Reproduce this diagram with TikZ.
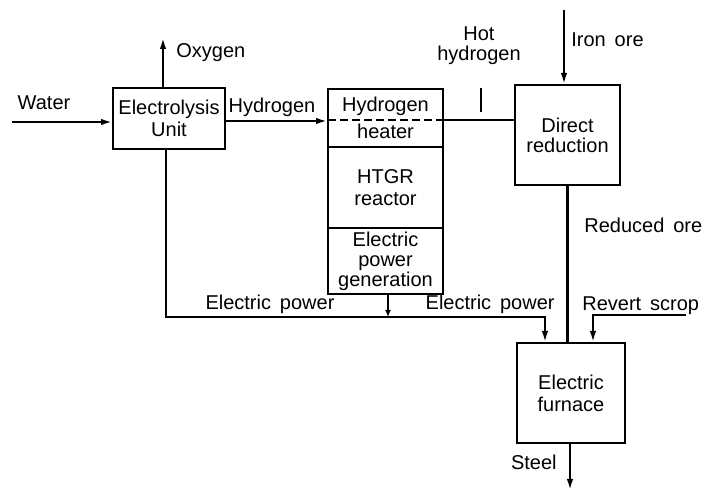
\documentclass[tikz,border=0pt]{standalone}
\usepackage{fontspec}
\setmainfont{Liberation Sans}[WordSpace=1.6]
\usetikzlibrary{arrows.meta, positioning}

\begin{document}
\begin{tikzpicture}[
    x=0.5pt, y=-0.5pt,
    block/.style={rectangle, draw, line width=1.1pt, inner sep=0pt, outer sep=0pt, align=center, font=\fontsize{10}{11}\selectfont},
    lbl/.style={inner sep=0pt, align=center, font=\fontsize{10}{10}\selectfont},
    flow/.style={line width=1.4pt},
    arrow/.style={flow, -{Latex[length=6pt, width=3.2pt]}},
    smallarrow/.style={flow, -{Latex[length=3.5pt, width=3pt]}}
]
    \useasboundingbox (0,0) rectangle (708,491);

    % boxes
    \node (elec) [block, minimum width=56pt, minimum height=30.5pt] at (169,118.5) {Electrolysis\\Unit};
    \node (heater) [block, minimum width=57.5pt, minimum height=29pt] at (385.5,118) {Hydrogen\\[2.5pt]heater};
    \node (htgr) [block, below=0pt of heater, minimum width=57.5pt, minimum height=40.5pt] {HTGR\\reactor};
    \node (epg) [block, below=0pt of htgr, minimum width=57.5pt, minimum height=33pt, font=\fontsize{10}{10}\selectfont] {Electric\\power\\generation};
    \node (dr) [block, minimum width=52.5pt, minimum height=50pt, font=\fontsize{10}{10}\selectfont] at (567.5,135) {Direct\\reduction};
    \node (furn) [block, minimum width=54pt, minimum height=50pt] at (571,393) {Electric\\furnace};

    % free ends
    \coordinate (water) at (12,122);
    \coordinate (oxy) at (163,37);
    \coordinate (ore) at (564,10);
    \coordinate (tick) at (481,88);
    \coordinate (busL) at (166,317);
    \coordinate (busR) at (545,317);
    \coordinate (scrap) at (686,315);
    \coordinate (scrapin) at (593,0);
    \coordinate (steel) at (570,491);

    % connectors
    \draw [arrow] (water) -- (water -| elec.west);
    \draw [arrow] (oxy |- elec.north) -- (oxy);
    \draw [arrow] (elec.east |- 0,121) -- (heater.west |- 0,121);
    \draw [line width=1pt, dash pattern=on 4pt off 2pt] (heater.west |- 0,120) -- (heater.east |- 0,120);
    \draw [flow] (heater.east |- 0,120) -- (dr.west |- 0,120);
    \draw [line width=1pt] (tick) -- ++(0,24);
    \draw [arrow] (ore) -- (ore |- dr.north);
    \draw [flow] (dr.south) -- (dr.south |- furn.north);
    \draw [arrow] (busL |- elec.south) -- (busL) -- (busR) -- (busR |- furn.north);
    \draw [smallarrow] (epg.south -| 388,0) -- (388,317);
    \draw [arrow] (scrap) -| (scrapin |- furn.north);
    \draw [arrow] (furn.south -| steel) -- (steel);

    % labels
    \node (waterlbl) [lbl, anchor=base] at (44,110) {Water};
    \node (oxylbl) [lbl, anchor=base west] at (176,58) {Oxygen};
    \node (hylbl) [lbl, anchor=base] at (272,113) {Hydrogen};
    \node (hotlbl) [lbl, anchor=base] at (479,61) {Hot\\hydrogen};
    \node (orelbl) [lbl, anchor=base west] at (571,47) {Iron ore};
    \node (redlbl) [lbl, anchor=base west] at (584,233) {Reduced ore};
    \node (powlblL) [lbl, anchor=base] at (270,310) {Electric power};
    \node (powlblR) [lbl, anchor=base east] at (555,310) {Electric power};
    \node (scraplbl) [lbl, anchor=base west] at (582,311) {Revert scrop};
    \node (steellbl) [lbl, anchor=base east] at (557,470) {Steel};
\end{tikzpicture}
\end{document}
